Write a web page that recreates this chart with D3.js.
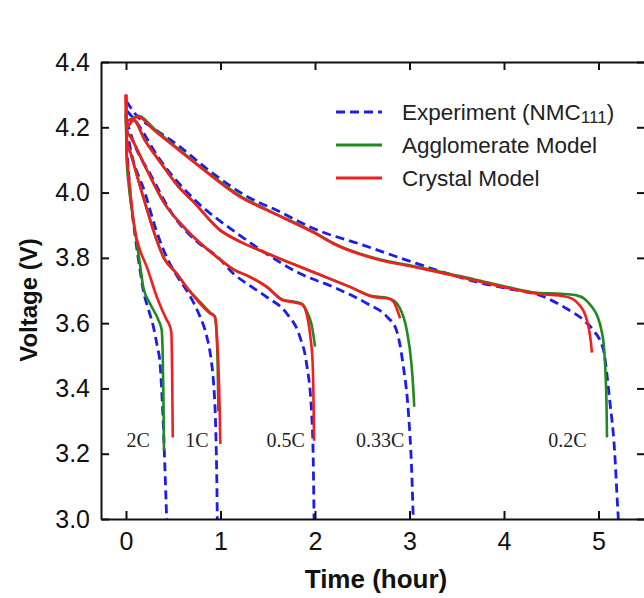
<!DOCTYPE html>
<html><head><meta charset="utf-8">
<script src="https://cdn.jsdelivr.net/npm/d3@7"></script>
<style>body{margin:0;background:#fff}svg{display:block}</style>
</head><body>
<script>
// ---- data (time in hours, voltage in V) ----
const rates = ["2C", "1C", "0.5C", "0.33C", "0.2C"];
const rateLabelPos = [[0.13, 3.242], [0.75, 3.242], [1.69, 3.242], [2.69, 3.242], [4.67, 3.242]];
const xTicks = [0, 1, 2, 3, 4, 5];
const yTicks = [3.0, 3.2, 3.4, 3.6, 3.8, 4.0, 4.2, 4.4];
const seriesNames = ["Experiment (NMC111)", "Agglomerate Model", "Crystal Model"];

const exp2C = [[0.005,4.15],[0.05,3.98],[0.10,3.86],[0.15,3.76],[0.183,3.70],[0.24,3.64],[0.289,3.59],[0.33,3.53],[0.36,3.477],[0.39,3.32],[0.41,3.17],[0.43,3.0]];
const agg2C = [[0,4.25],[0.004,4.12],[0.03,4.02],[0.06,3.95],[0.095,3.885],[0.148,3.78],[0.183,3.71],[0.254,3.66],[0.342,3.61],[0.377,3.58],[0.39,3.48],[0.397,3.35],[0.402,3.21]];
const cry2C = [[0,4.30],[0.004,4.14],[0.03,4.05],[0.06,3.96],[0.09,3.89],[0.148,3.824],[0.219,3.773],[0.325,3.681],[0.43,3.61],[0.465,3.59],[0.48,3.57],[0.488,3.45],[0.495,3.25]];

const exp1C = [[0.005,4.20],[0.05,4.13],[0.2,4.0],[0.325,3.88],[0.45,3.79],[0.55,3.74],[0.642,3.70],[0.72,3.66],[0.783,3.62],[0.854,3.56],[0.90,3.49],[0.924,3.426],[0.95,3.27],[0.962,3.1],[0.966,3.0]];
const agg1C = [[0,4.24],[0.005,4.16],[0.05,4.12],[0.148,4.02],[0.22,3.95],[0.289,3.885],[0.40,3.80],[0.536,3.752],[0.642,3.71],[0.783,3.665],[0.889,3.633],[0.94,3.62],[0.958,3.57],[0.97,3.47],[0.978,3.33]];
const cry1C = [[0,4.30],[0.005,4.17],[0.05,4.12],[0.148,4.02],[0.22,3.95],[0.289,3.885],[0.40,3.80],[0.536,3.752],[0.642,3.71],[0.783,3.66],[0.889,3.63],[0.94,3.62],[0.96,3.57],[0.977,3.477],[0.99,3.35],[0.998,3.23]];

const exp05C = [[0.005,4.22],[0.1,4.14],[0.25,4.06],[0.5,3.93],[0.75,3.85],[0.98,3.80],[1.135,3.752],[1.31,3.715],[1.49,3.68],[1.7,3.63],[1.84,3.558],[1.91,3.477],[1.965,3.32],[1.982,3.17],[1.99,3.0]];
const agg05C = [[0,4.24],[0.005,4.19],[0.05,4.17],[0.22,4.07],[0.40,3.97],[0.642,3.885],[0.96,3.803],[1.135,3.765],[1.31,3.742],[1.49,3.711],[1.66,3.672],[1.77,3.666],[1.86,3.66],[1.92,3.632],[1.96,3.60],[1.985,3.56],[2.0,3.528]];
const cry05C = [[0,4.30],[0.005,4.19],[0.05,4.17],[0.22,4.07],[0.40,3.97],[0.642,3.885],[0.96,3.803],[1.135,3.765],[1.31,3.742],[1.49,3.711],[1.66,3.67],[1.77,3.664],[1.86,3.658],[1.91,3.63],[1.95,3.56],[1.975,3.477],[1.985,3.35],[1.99,3.24]];

const exp033C = [[0.01,4.25],[0.1,4.22],[0.36,4.10],[0.72,3.98],[1.2,3.87],[1.5,3.81],[1.84,3.752],[2.19,3.711],[2.55,3.66],[2.76,3.62],[2.86,3.58],[2.93,3.477],[2.99,3.32],[3.02,3.17],[3.04,3.0]];
const agg033C = [[0,4.24],[0.005,4.20],[0.08,4.222],[0.2,4.16],[0.36,4.094],[0.55,4.02],[0.712,3.972],[0.995,3.885],[1.206,3.85],[1.49,3.814],[2.02,3.752],[2.37,3.711],[2.62,3.682],[2.76,3.678],[2.84,3.668],[2.89,3.65],[2.97,3.58],[3.02,3.477],[3.04,3.40],[3.05,3.344]];
const cry033C = [[0,4.30],[0.005,4.20],[0.08,4.222],[0.2,4.16],[0.36,4.094],[0.55,4.02],[0.712,3.972],[0.995,3.885],[1.206,3.85],[1.49,3.814],[2.02,3.752],[2.37,3.711],[2.62,3.68],[2.76,3.676],[2.83,3.666],[2.87,3.64],[2.9,3.615]];

const exp02C = [[0.005,4.28],[0.1,4.24],[0.3,4.195],[0.55,4.145],[0.89,4.065],[1.3,3.985],[1.6,3.945],[2.0,3.888],[2.5,3.84],[3.0,3.79],[3.4,3.752],[3.7,3.727],[4.0,3.708],[4.4,3.683],[4.66,3.645],[4.84,3.61],[4.94,3.58],[5.05,3.52],[5.12,3.36],[5.17,3.21],[5.2,3.05],[5.21,3.0]];
const agg02C = [[0,4.24],[0.005,4.22],[0.13,4.235],[0.3,4.195],[0.536,4.138],[0.889,4.056],[1.206,3.99],[1.49,3.948],[2.0,3.877],[2.19,3.846],[2.69,3.795],[3.0,3.777],[3.29,3.76],[3.7,3.733],[3.99,3.714],[4.35,3.693],[4.6,3.69],[4.75,3.686],[4.85,3.675],[4.93,3.65],[4.99,3.62],[5.03,3.58],[5.06,3.52],[5.075,3.44],[5.085,3.35],[5.09,3.25]];
const cry02C = [[0,4.30],[0.005,4.22],[0.13,4.232],[0.3,4.19],[0.536,4.135],[0.889,4.054],[1.206,3.987],[1.49,3.946],[2.0,3.875],[2.19,3.844],[2.69,3.793],[3.0,3.775],[3.29,3.757],[3.7,3.73],[3.99,3.711],[4.35,3.69],[4.6,3.684],[4.72,3.675],[4.8,3.655],[4.86,3.625],[4.9,3.58],[4.92,3.54],[4.93,3.51]];

const experiment = [exp2C, exp1C, exp05C, exp033C, exp02C];
const agglomerate = [agg2C, agg1C, agg05C, agg033C, agg02C];
const crystal = [cry2C, cry1C, cry05C, cry033C, cry02C];

// ---- layout ----
const W = 644, H = 598;
const L = 101, R = 645, T = 62, B = 519;
const svg = d3.select("body").append("svg").attr("width", W).attr("height", H);

const x = d3.scaleLinear().domain([-0.2646, 5.4921]).range([L, R]);
const y = d3.scaleLinear().domain([3.0, 4.4]).range([B, T]);

const colors = {exp: "#1c1cf0", agg: "#1f8a1f", cry: "#f51e1e"};
const line = d3.line().x(d => x(d[0])).y(d => y(d[1])).curve(d3.curveMonotoneX);

svg.append("clipPath").attr("id", "c").append("rect")
  .attr("x", L).attr("y", T).attr("width", R - L).attr("height", B - T);
const plot = svg.append("g").attr("clip-path", "url(#c)");

plot.selectAll(".exp").data(experiment).join("path")
  .attr("d", line).attr("fill", "none").attr("stroke", colors.exp)
  .attr("stroke-width", 2.8).attr("stroke-dasharray", "9,5");
plot.selectAll(".agg").data(agglomerate).join("path")
  .attr("d", line).attr("fill", "none").attr("stroke", colors.agg).attr("stroke-width", 2.6);
plot.selectAll(".cry").data(crystal).join("path")
  .attr("d", line).attr("fill", "none").attr("stroke", colors.cry).attr("stroke-width", 2.6);

// rate labels
svg.selectAll(".rate").data(rates).join("text")
  .attr("x", (d, i) => x(rateLabelPos[i][0])).attr("y", (d, i) => y(rateLabelPos[i][1]))
  .attr("text-anchor", "middle").attr("dominant-baseline", "central")
  .attr("font-family", "Liberation Serif, Times New Roman, serif").attr("font-size", 20)
  .attr("fill", "#222").text(d => d);

// axes
const font = "Liberation Sans, Arial, Helvetica, sans-serif";
const gx = svg.append("g").attr("transform", `translate(0,${B})`)
  .call(d3.axisBottom(x).tickValues(xTicks).tickSize(-8).tickSizeOuter(0).tickPadding(13).tickFormat(d3.format("d")));
const gxt = svg.append("g").attr("transform", `translate(0,${T})`)
  .call(d3.axisTop(x).tickValues(xTicks).tickSize(-8).tickSizeOuter(0).tickFormat(""));
const gy = svg.append("g").attr("transform", `translate(${L},0)`)
  .call(d3.axisLeft(y).tickValues(yTicks).tickSize(-8).tickSizeOuter(0).tickPadding(11).tickFormat(d3.format(".1f")));
const gyr = svg.append("g").attr("transform", `translate(${R},0)`)
  .call(d3.axisRight(y).tickValues(yTicks).tickSize(-8).tickSizeOuter(0).tickFormat(""));
[gx, gxt, gy, gyr].forEach(g => {
  g.selectAll("path.domain").attr("stroke", "#111").attr("stroke-width", 2);
  g.selectAll(".tick line").attr("stroke", "#111").attr("stroke-width", 2);
  g.selectAll(".tick text").attr("font-family", font).attr("font-size", 25).attr("fill", "#111");
});

// axis titles
svg.append("text").attr("x", 376).attr("y", 588).attr("text-anchor", "middle")
  .attr("font-family", font).attr("font-weight", "bold").attr("font-size", 26).attr("fill", "#111")
  .text("Time (hour)");
svg.append("text").attr("transform", `translate(37,300) rotate(-90)`).attr("text-anchor", "middle")
  .attr("font-family", font).attr("font-weight", "bold").attr("font-size", 24).attr("fill", "#111")
  .text("Voltage (V)");

// legend
const legY = [112, 145, 178];
const legStyles = [
  {c: colors.exp, dash: "9,5"}, {c: colors.agg, dash: null}, {c: colors.cry, dash: null}];
const leg = svg.append("g");
seriesNames.forEach((n, i) => {
  leg.append("line").attr("x1", 336).attr("x2", 382).attr("y1", legY[i]).attr("y2", legY[i])
    .attr("stroke", legStyles[i].c).attr("stroke-width", 2.8).attr("stroke-dasharray", legStyles[i].dash);
  const t = leg.append("text").attr("x", 402).attr("y", legY[i]).attr("dominant-baseline", "central")
    .attr("font-family", font).attr("font-size", 22.5).attr("fill", "#222");
  if (i === 0) {
    t.append("tspan").text("Experiment (NMC");
    t.append("tspan").attr("font-size", 17).attr("dy", 5).text("111");
    t.append("tspan").attr("dy", -5).text(")");
  } else t.text(n);
});
</script>
</body></html>
